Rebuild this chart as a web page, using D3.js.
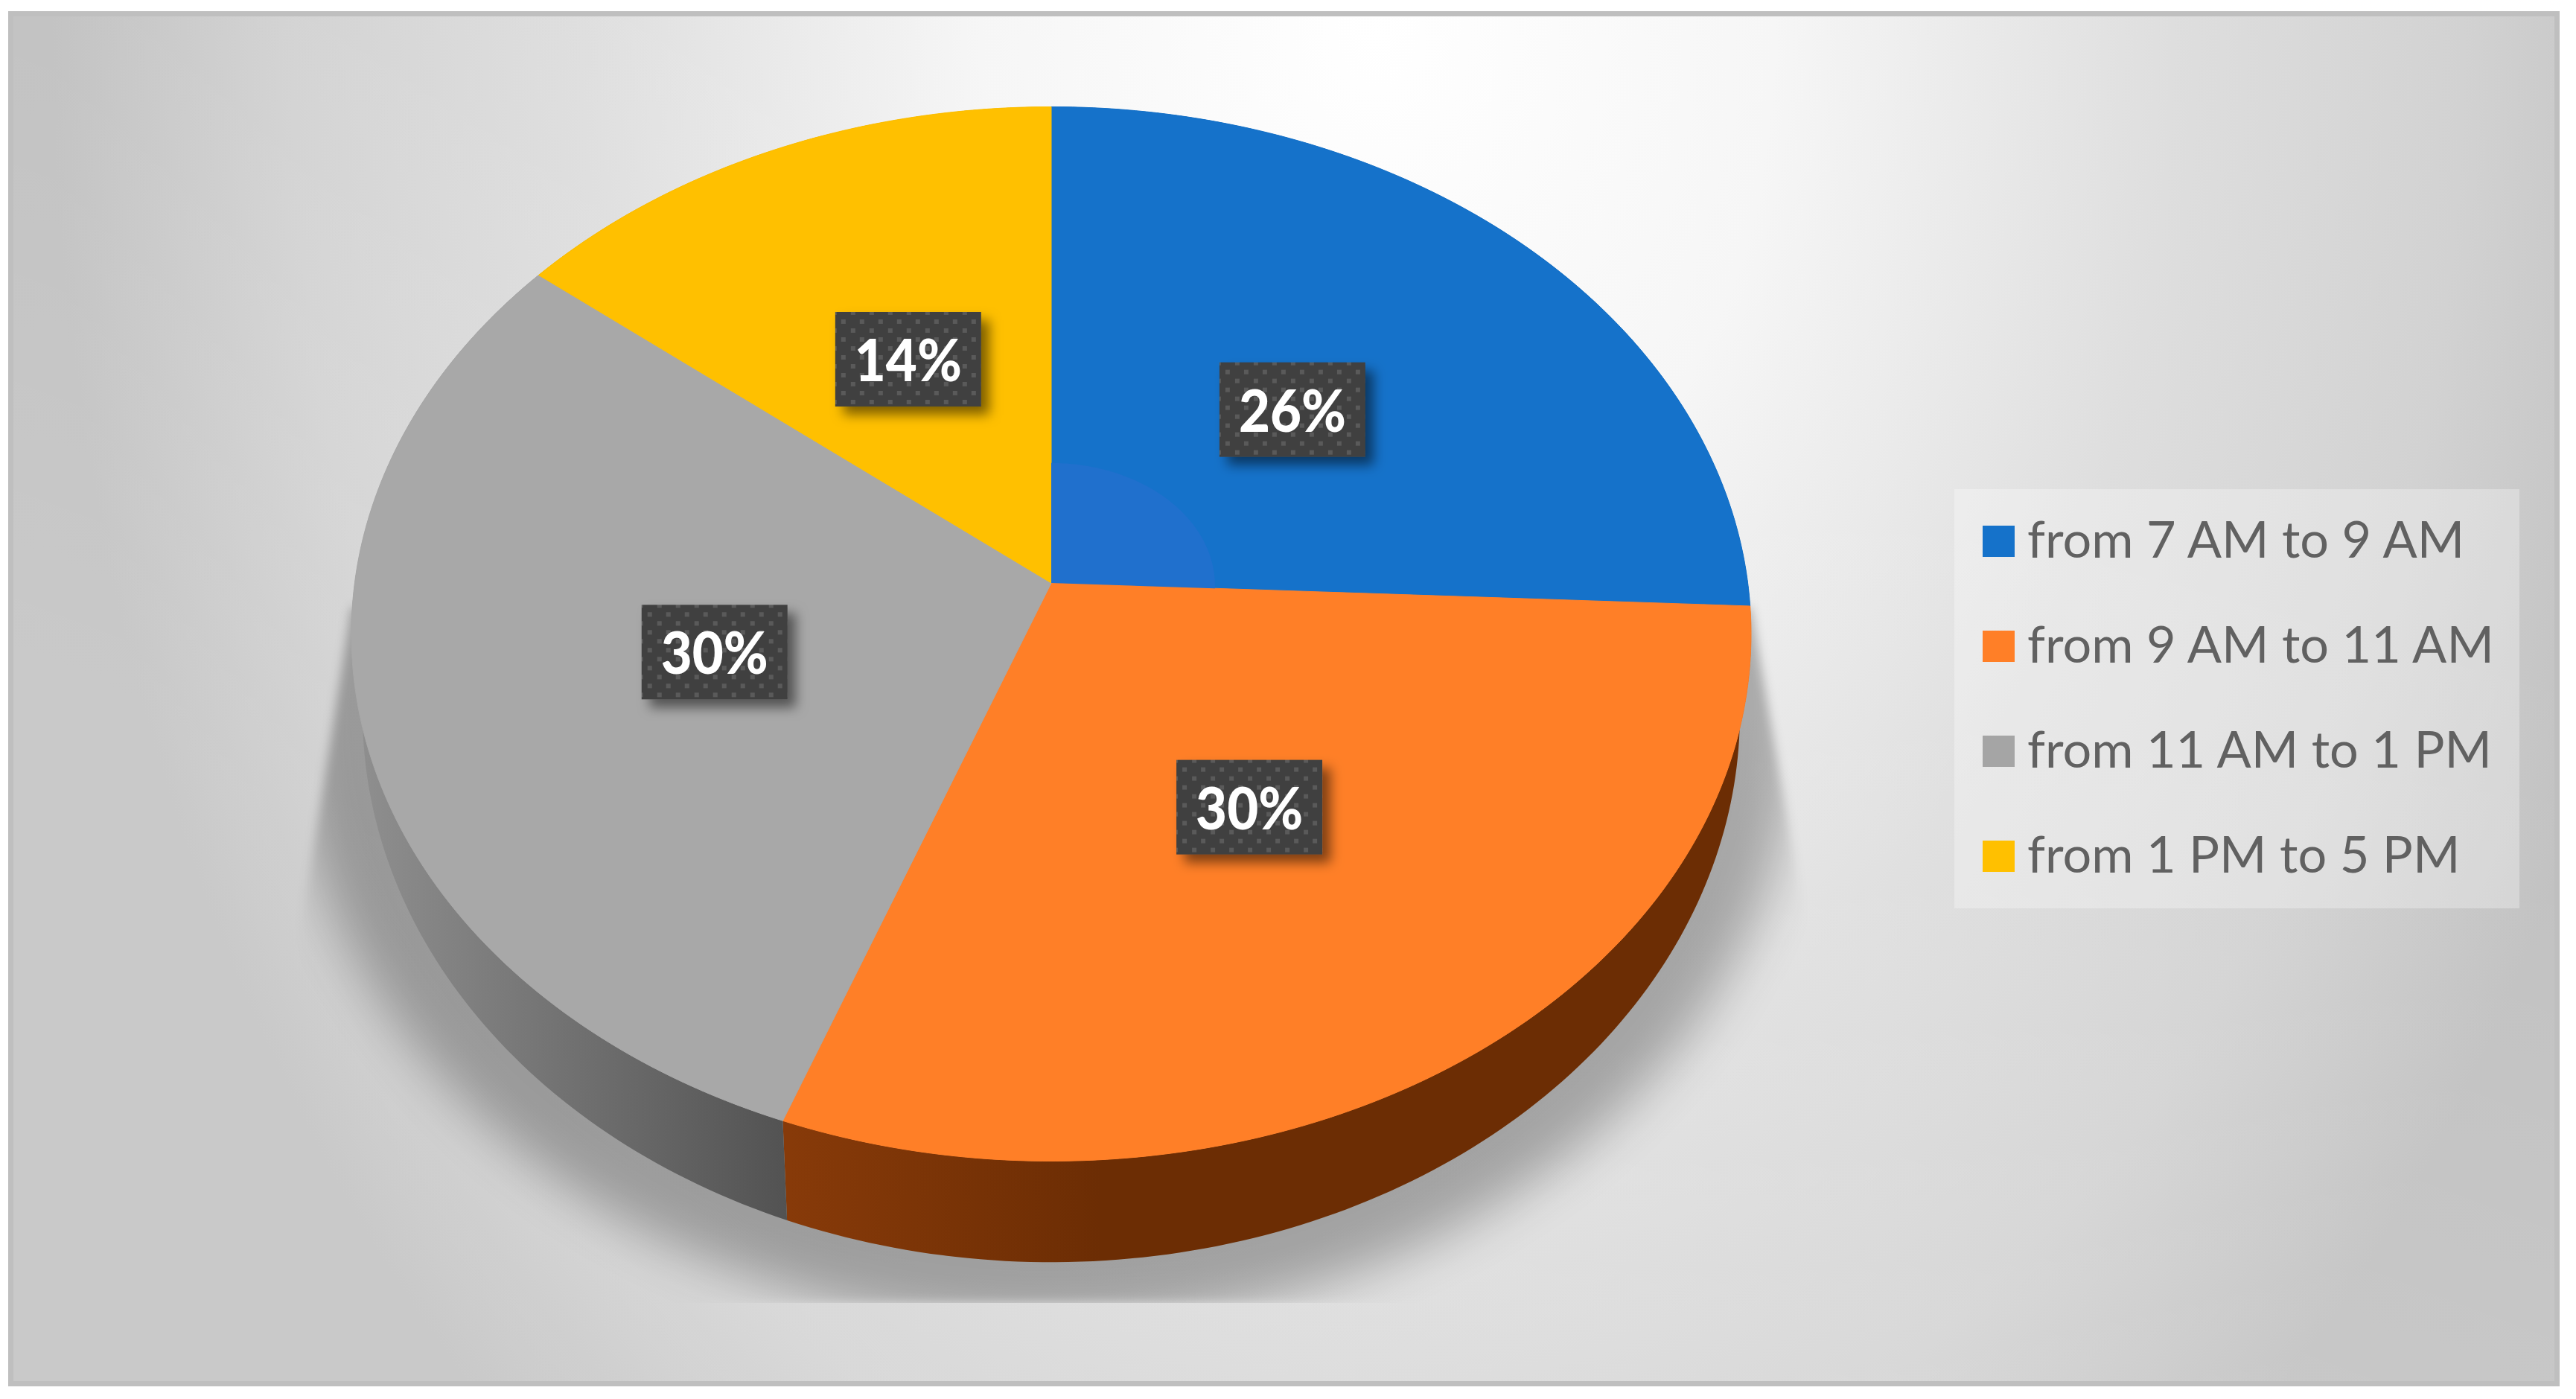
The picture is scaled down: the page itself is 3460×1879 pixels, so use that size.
<!DOCTYPE html>
<html>
<head>
<meta charset="utf-8">
<script src="https://cdn.jsdelivr.net/npm/d3@7"></script>
<style>
body { margin: 0; background: #fff; }
svg { display: block; }
text { font-family: Lato, "Open Sans", sans-serif; }
</style>
</head>
<body>
<div id="chart"></div>
<script>
var categories = ["from 7 AM to 9 AM", "from 9 AM to 11 AM", "from 11 AM to 1 PM", "from 1 PM to 5 PM"];
var shares = [25.7, 30, 30.05, 14.25];
var colors = ["#1572ca", "#ff7f27", "#a8a8a8", "#ffc000"];

var width = 3460, height = 1879;

var svg = d3.select("#chart").append("svg")
	.attr("width", width)
	.attr("height", height);
var defs = svg.append("defs");

// panel background
var glow = defs.append("radialGradient").attr("id", "panelGlow")
	.attr("gradientUnits", "userSpaceOnUse")
	.attr("cx", 0).attr("cy", 0).attr("r", 1)
	.attr("gradientTransform", "translate(1850,40) scale(1780,2500)");
[[0, "#ffffff"], [0.3, "#f6f6f6"], [0.6, "#dedede"], [0.82, "#d2d2d2"], [1, "#c0c0c0"]].forEach(function(s) {
	glow.append("stop").attr("offset", s[0]).attr("stop-color", s[1]);
});
var lift = defs.append("linearGradient").attr("id", "panelLift")
	.attr("x1", 0.35).attr("y1", 0).attr("x2", 0).attr("y2", 0.5);
lift.append("stop").attr("offset", 0).attr("stop-color", "#fff").attr("stop-opacity", 0);
lift.append("stop").attr("offset", 1).attr("stop-color", "#fff").attr("stop-opacity", 0.15);

svg.append("rect").attr("x", 11).attr("y", 15).attr("width", 3427).attr("height", 1847)
	.attr("fill", "url(#panelGlow)");
svg.append("rect").attr("x", 11).attr("y", 15).attr("width", 3427).attr("height", 1847)
	.attr("fill", "url(#panelLift)");
svg.append("rect").attr("x", 14.5).attr("y", 18.5).attr("width", 3420).attr("height", 1840)
	.attr("fill", "none").attr("stroke", "#bfbfbf").attr("stroke-width", 7);

// the tilted disc: a circle seen in perspective, apex sits above the ellipse centre
var k = -0.0967;
function face(y0, rx, ry) {
	var a = rx * Math.sqrt(1 - k * k), b = ry * (1 - k * k);
	return function(angle, r) {
		var u = r * Math.sin(angle), v = -r * Math.cos(angle), w = 1 + k * v;
		return [1412 + a * u / w, y0 + b * v / w];
	};
}
var topFace = face(783, 940, 708);
var lowFace = face(887, 925, 737);

var pie = d3.pie().sort(null).value(function(d) { return d; });
var arcs = pie(shares);
var line = d3.line();

function arcAngles(d) {
	var n = Math.ceil((d.endAngle - d.startAngle) * 60);
	return d3.range(n + 1).map(function(i) {
		return d.startAngle + (d.endAngle - d.startAngle) * i / n;
	});
}
function slicePath(d, r) {
	var pts = arcAngles(d).map(function(t) { return topFace(t, r); });
	pts.unshift(topFace(0, 0));
	return line(pts) + "Z";
}
function wallPath(d) {
	var ts = arcAngles(d);
	var pts = ts.map(function(t) { return topFace(t, 1); })
		.concat(ts.slice().reverse().map(function(t) { return lowFace(t, 1); }));
	return line(pts) + "Z";
}

// shadow under the disc
var soft = defs.append("filter").attr("id", "soft")
	.attr("x", -0.2).attr("y", -0.2).attr("width", 1.4).attr("height", 1.4);
soft.append("feGaussianBlur").attr("stdDeviation", 34);
var edge = defs.append("filter").attr("id", "edge")
	.attr("filterUnits", "userSpaceOnUse")
	.attr("x", 300).attr("y", 700).attr("width", 2300).attr("height", 1100);
edge.append("feGaussianBlur").attr("stdDeviation", 7);
defs.append("clipPath").attr("id", "shadowClip").append("path")
	.attr("d", "M472,816L405,1240V1750H2425V1240L2352,816Z");
defs.append("clipPath").attr("id", "shadowFloor").append("rect")
	.attr("x", 300).attr("y", 700).attr("width", 2300).attr("height", 1050);
svg.append("g").attr("clip-path", "url(#shadowFloor)")
	.append("g").attr("filter", "url(#edge)")
	.append("g").attr("clip-path", "url(#shadowClip)")
	.append("ellipse")
	.attr("cx", 1405).attr("cy", 960).attr("rx", 1010).attr("ry", 820)
	.attr("fill", "#000").attr("opacity", 0.28)
	.attr("filter", "url(#soft)");

// walls
function wallGradient(id, x1, x2, c1, c2) {
	var g = defs.append("linearGradient").attr("id", id)
		.attr("gradientUnits", "userSpaceOnUse")
		.attr("x1", x1).attr("x2", x2).attr("y1", 0).attr("y2", 0);
	g.append("stop").attr("offset", 0).attr("stop-color", c1);
	g.append("stop").attr("offset", 1).attr("stop-color", c2);
}
wallGradient("wall0", 0, 1, "#0d4378", "#0d4378");
wallGradient("wall1", 1060, 1480, "#873a09", "#6c2d04");
wallGradient("wall2", 490, 1060, "#8e8e8e", "#525252");
wallGradient("wall3", 0, 1, "#997300", "#997300");

svg.append("g").selectAll("path")
	.data(arcs)
	.enter()
	.append("path")
	.attr("d", wallPath)
	.attr("fill", function(d, i) { return "url(#wall" + i + ")"; });

// top of the disc
svg.append("g").selectAll("path")
	.data(arcs)
	.enter()
	.append("path")
	.attr("d", function(d) { return slicePath(d, 1); })
	.attr("fill", function(d, i) { return colors[i]; })
	.attr("stroke", function(d, i) { return colors[i]; })
	.attr("stroke-width", 1);

// faint lighter patch round the apex of the first slice
svg.append("path")
	.attr("d", slicePath(arcs[0], 0.235))
	.attr("fill", "#2070cd");

// value labels
var dots = defs.append("pattern").attr("id", "dots")
	.attr("patternUnits", "userSpaceOnUse")
	.attr("x", -98).attr("y", -64)
	.attr("width", 25).attr("height", 24);
dots.append("rect").attr("width", 25).attr("height", 24).attr("fill", "#404040");
dots.append("rect").attr("x", 21).attr("y", -2).attr("width", 6).attr("height", 6).attr("fill", "#5a5a5a");
dots.append("rect").attr("x", 21).attr("y", 22).attr("width", 6).attr("height", 6).attr("fill", "#5a5a5a");
dots.append("rect").attr("x", -4).attr("y", -2).attr("width", 6).attr("height", 6).attr("fill", "#5a5a5a");
dots.append("rect").attr("x", -4).attr("y", 22).attr("width", 6).attr("height", 6).attr("fill", "#5a5a5a");
dots.append("rect").attr("x", 8).attr("y", 10).attr("width", 6).attr("height", 6).attr("fill", "#5a5a5a");

var lift2 = defs.append("filter").attr("id", "boxShadow")
	.attr("x", -0.3).attr("y", -0.3).attr("width", 1.6).attr("height", 1.6);
lift2.append("feDropShadow")
	.attr("dx", 11).attr("dy", 11).attr("stdDeviation", 8)
	.attr("flood-color", "#000").attr("flood-opacity", 0.5);

var labels = svg.append("g").selectAll("g")
	.data(arcs)
	.enter()
	.append("g")
	.attr("transform", function(d) {
		var p = topFace((d.startAngle + d.endAngle) / 2, 0.495);
		return "translate(" + p[0] + "," + p[1] + ")";
	});
labels.append("rect")
	.attr("x", -98).attr("y", -64).attr("width", 196).attr("height", 127)
	.attr("fill", "url(#dots)")
	.attr("filter", "url(#boxShadow)");
var valueText = labels.append("text")
	.attr("y", 29)
	.attr("text-anchor", "middle")
	.attr("fill", "#fff")
	.attr("font-size", 78)
	.attr("font-weight", 900)
	.text(function(d) { return Math.round(d.value) + "%"; });
var valueScale = 144 / valueText.nodes()[3].getComputedTextLength();
valueText.attr("transform", "scale(" + valueScale + ",1)");

// legend
svg.append("rect").attr("x", 2625).attr("y", 657).attr("width", 759).attr("height", 563)
	.attr("fill", "#fff").attr("opacity", 0.3);

var rowScale = d3.scalePoint().domain(categories).range([727, 1150]);
var rows = svg.append("g").selectAll("g")
	.data(categories)
	.enter()
	.append("g")
	.attr("transform", function(d) { return "translate(2663," + rowScale(d) + ")"; });
rows.append("rect")
	.attr("y", -21).attr("width", 43).attr("height", 42)
	.attr("fill", function(d, i) { return colors[i] === "#a8a8a8" ? "#a5a5a5" : colors[i]; });
var legendText = rows.append("text")
	.attr("y", 22)
	.attr("fill", "#616161")
	.attr("font-size", 68)
	.text(function(d) { return d; });
var legendScale = 627 / legendText.nodes()[1].getComputedTextLength();
legendText.attr("transform", "translate(60,0) scale(" + legendScale + ",1)");
</script>
</body>
</html>
